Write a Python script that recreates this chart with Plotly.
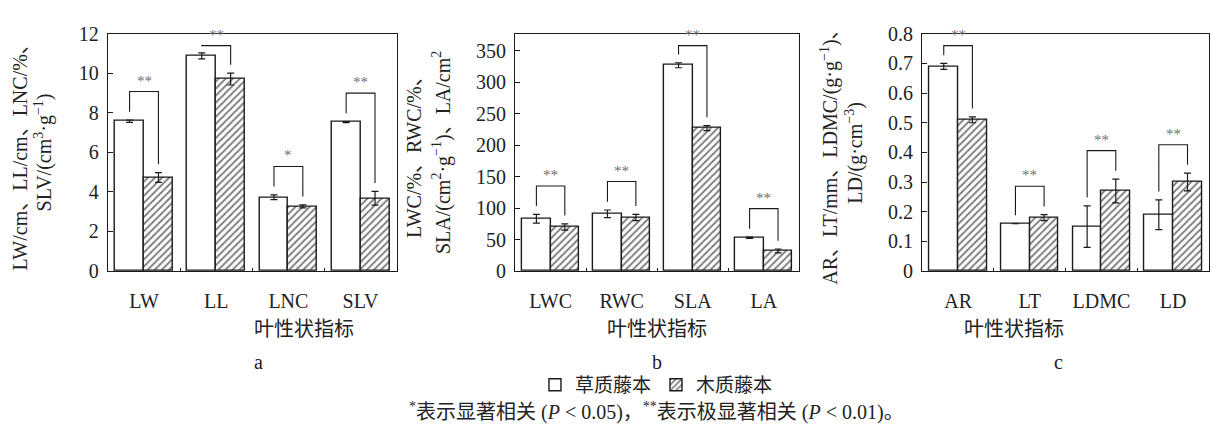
import plotly.graph_objects as go

# ---------------- data ----------------
cats_a = ["LW", "LL", "LNC", "SLV"]
herb_a = [7.58, 10.88, 3.73, 7.53]
herb_a_err = [0.06, 0.15, 0.12, 0.03]
wood_a = [4.73, 9.71, 3.27, 3.68]
wood_a_err = [0.25, 0.30, 0.08, 0.35]
sig_a = ["**", "**", "*", "**"]

cats_b = ["LWC", "RWC", "SLA", "LA"]
herb_b = [83, 91, 327, 53]
herb_b_err = [7, 6, 4, 1]
wood_b = [70, 85, 227, 32]
wood_b_err = [5, 5, 4, 3]
sig_b = ["**", "**", "**", "**"]

cats_c = ["AR", "LT", "LDMC", "LD"]
herb_c = [0.69, 0.16, 0.15, 0.19]
herb_c_err = [0.01, 0.0, 0.07, 0.05]
wood_c = [0.51, 0.18, 0.27, 0.30]
wood_c_err = [0.01, 0.01, 0.04, 0.03]
sig_c = ["**", "**", "**", "**"]

series_names = ["草质藤本", "木质藤本"]
xlabel = "叶性状指标"
panel_labels = ["a", "b", "c"]
ytitles = [
    ["LW/cm、LL/cm、LNC/%、", "SLV/(cm<sup>3</sup>·g<sup>−1</sup>)"],
    ["LWC/%、RWC/%、", "SLA/(cm<sup>2</sup>·g<sup>−1</sup>)、LA/cm<sup>2</sup>"],
    ["AR、LT/mm、LDMC/(g·g<sup>−1</sup>)、", "LD/(g·cm<sup>−3</sup>)"],
]
footnote = ("<sup>*</sup>表示显著相关 (<i>P</i> &lt; 0.05)，"
            "<sup>**</sup>表示极显著相关 (<i>P</i> &lt; 0.01)。")

# ---------------- layout constants ----------------
W, H = 1210, 432
FONT = "Liberation Serif, 'Noto Sans CJK SC', serif"
CJK = "'Noto Sans CJK SC', Liberation Serif, sans-serif"
LINE = "#1a1a1a"

panels = [
    dict(cats=cats_a, herb=herb_a, herr=herb_a_err, wood=wood_a, werr=wood_a_err, sig=sig_a,
         yrange=[0, 12], dtick=2, x0=108, x1=397, title_x=(20, 43)),
    dict(cats=cats_b, herb=herb_b, herr=herb_b_err, wood=wood_b, werr=wood_b_err, sig=sig_b,
         yrange=[0, 377], dtick=50, x0=515.5, x1=800, title_x=(415, 442)),
    dict(cats=cats_c, herb=herb_c, herr=herb_c_err, wood=wood_c, werr=wood_c_err, sig=sig_c,
         yrange=[0, 0.8], dtick=0.1, x0=923, x1=1210, title_x=(830, 855)),
]
ytop_px, ybot_px = 24, 274
ydom = [(H - ybot_px) / H, (H - ytop_px) / H]
bw = 0.4

fig = go.Figure()
annotations = []

for k, p in enumerate(panels):
    sfx = "" if k == 0 else str(k + 1)
    xa, ya = "x" + sfx, "y" + sfx
    n = len(p["cats"])
    idx = list(range(n))
    xh = [i - bw / 2 for i in idx]
    xw = [i + bw / 2 for i in idx]

    fig.add_trace(go.Bar(
        x=xh, y=p["herb"], width=bw, xaxis=xa, yaxis=ya,
        name=series_names[0], legendgroup="h", showlegend=(k == 0),
        marker=dict(color="white", line=dict(color=LINE, width=1.4)),
        error_y=dict(type="data", array=p["herr"], visible=True,
                     color=LINE, thickness=1.2, width=3.5),
    ))
    fig.add_trace(go.Bar(
        x=xw, y=p["wood"], width=bw, xaxis=xa, yaxis=ya,
        name=series_names[1], legendgroup="w", showlegend=(k == 0),
        marker=dict(color="white", line=dict(color=LINE, width=1.4),
                    pattern=dict(shape="/", fgcolor="#000000", bgcolor="white",
                                 size=5, solidity=0.4)),
        error_y=dict(type="data", array=p["werr"], visible=True,
                     color=LINE, thickness=1.2, width=3.5),
    ))

    # significance brackets derived from data
    R = p["yrange"][1]
    bx, by = [], []
    for i in idx:
        hh = p["herb"][i] + p["herr"][i]
        hw = p["wood"][i] + p["werr"][i]
        top = min(max(hh, hw) + 0.12 * R, 0.95 * R)
        bx += [xh[i], xh[i], xw[i], xw[i], None]
        by += [hh + 0.035 * R, top, top, hw + 0.035 * R, None]
        annotations.append(dict(
            x=i, y=top, xref=xa, yref=ya, text=p["sig"][i], showarrow=False,
            yanchor="middle", yshift=11,
            font=dict(family=FONT, size=15, color="#6e6e6e")))
    fig.add_trace(go.Scatter(
        x=bx, y=by, xaxis=xa, yaxis=ya, mode="lines",
        line=dict(color=LINE, width=1.1), showlegend=False, hoverinfo="skip"))

    xdom = [p["x0"] / W, min(p["x1"] / W, 1.0)]
    fig.update_layout(**{
        "xaxis" + sfx: dict(
            domain=xdom, range=[-0.5, n - 0.5], anchor=ya,
            tickmode="array", tickvals=idx, ticktext=p["cats"], ticks="",
            showline=True, linecolor=LINE, linewidth=1.3, mirror=True,
            showgrid=False, zeroline=False, ticklabelstandoff=12,
            tickfont=dict(family=FONT, size=20, color="#222"),
            minor=dict(tickmode="array", tickvals=[i + 0.5 for i in idx[:-1]],
                       ticks="inside", ticklen=3, tickcolor=LINE),
        ),
        "yaxis" + sfx: dict(
            domain=ydom, range=p["yrange"], anchor=xa,
            dtick=p["dtick"], tick0=0, ticks="inside", ticklen=5, tickcolor=LINE,
            showline=True, linecolor=LINE, linewidth=1.3, mirror=True,
            showgrid=False, zeroline=False, ticklabelstandoff=4,
            tickfont=dict(family=FONT, size=20, color="#222"),
        ),
    })

    cx = (p["x0"] + min(p["x1"], W)) / 2 / W
    annotations.append(dict(x=cx, y=(H - 333) / H, xref="paper", yref="paper",
                            text=xlabel, showarrow=False, yanchor="middle",
                            font=dict(family=CJK, size=20, color="#222")))
    annotations.append(dict(x=(p["x0"] + p["x1"]) / 2 / W if k < 2 else 1066 / W,
                            y=(H - 370) / H, xref="paper", yref="paper",
                            text=panel_labels[k], showarrow=False, yanchor="middle",
                            font=dict(family=FONT, size=20, color="#222")))
    for j, t in enumerate(ytitles[k]):
        annotations.append(dict(x=p["title_x"][j] / W, y=(H - 149) / H,
                                xref="paper", yref="paper", text=t, textangle=-90,
                                showarrow=False, xanchor="center", yanchor="middle",
                                font=dict(family=FONT, size=20, color="#222")))

annotations.append(dict(x=657 / W, y=(H - 422) / H, xref="paper", yref="paper",
                        text=footnote, showarrow=False, yanchor="middle",
                        font=dict(family=FONT, size=20, color="#222")))

fig.update_layout(
    width=W, height=H, margin=dict(l=0, r=0, t=0, b=0),
    paper_bgcolor="white", plot_bgcolor="white",
    barmode="overlay", bargap=0,
    showlegend=True,
    legend=dict(orientation="h", x=657 / W, xanchor="center",
                y=(H - 394) / H, yanchor="middle",
                font=dict(family=CJK, size=19, color="#222"),
                itemwidth=30, tracegroupgap=0, bgcolor="rgba(0,0,0,0)"),
    annotations=annotations,
)

fig.write_html("out.html")
